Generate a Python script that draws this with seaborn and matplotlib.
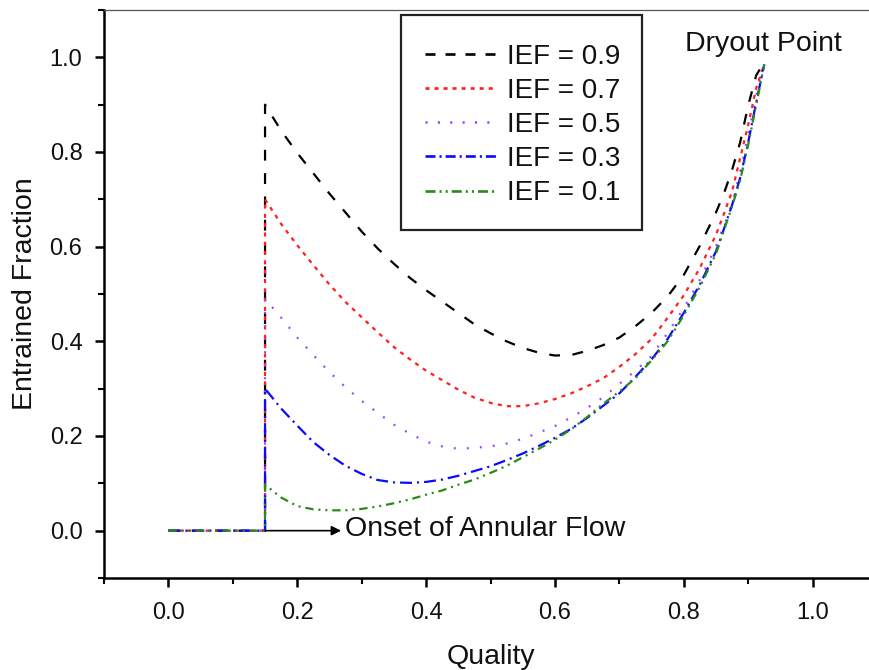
import matplotlib
matplotlib.use("Agg")
import matplotlib.pyplot as plt
import seaborn as sns
import pandas as pd
from matplotlib.ticker import MultipleLocator
from matplotlib.lines import Line2D
from matplotlib.patches import Rectangle

# ---- data ----
quality = [0.0, 0.15, 0.15, 0.175, 0.2, 0.225, 0.25, 0.275, 0.3, 0.325, 0.35, 0.375, 0.4,
           0.425, 0.45, 0.475, 0.5, 0.525, 0.55, 0.575, 0.6, 0.625, 0.65,
           0.675, 0.7, 0.725, 0.75, 0.775, 0.8, 0.825, 0.85,
           0.8625, 0.875, 0.8875, 0.9, 0.9125, 0.925]
ief_labels = ["IEF = 0.9", "IEF = 0.7", "IEF = 0.5", "IEF = 0.3", "IEF = 0.1"]
ef_09 = [0.0, 0.0, 0.90, 0.845, 0.798, 0.755, 0.712, 0.672, 0.632, 0.596, 0.564, 0.534, 0.508,
         0.484, 0.46, 0.436, 0.417, 0.40, 0.386, 0.376, 0.370, 0.371, 0.38,
         0.392, 0.408, 0.432, 0.46, 0.495, 0.54, 0.602, 0.672,
         0.713, 0.762, 0.82, 0.898, 0.962, 0.99]
ef_07 = [0.0, 0.0, 0.70, 0.648, 0.603, 0.561, 0.52, 0.483, 0.451, 0.419, 0.388, 0.362, 0.338,
         0.318, 0.298, 0.281, 0.270, 0.263, 0.263, 0.269, 0.278, 0.29, 0.305,
         0.322, 0.346, 0.373, 0.405, 0.45, 0.497, 0.555, 0.625,
         0.67, 0.717, 0.787, 0.857, 0.935, 0.985]
ef_05 = [0.0, 0.0, 0.49, 0.45, 0.408, 0.371, 0.335, 0.303, 0.274, 0.249, 0.224, 0.205, 0.188,
         0.178, 0.173, 0.175, 0.178, 0.184, 0.194, 0.207, 0.221, 0.239, 0.259,
         0.282, 0.31, 0.338, 0.369, 0.418, 0.47, 0.53, 0.60,
         0.645, 0.69, 0.757, 0.835, 0.92, 0.985]
ef_03 = [0.0, 0.0, 0.30, 0.258, 0.222, 0.187, 0.16, 0.137, 0.12, 0.107, 0.102, 0.101, 0.103,
         0.108, 0.116, 0.126, 0.136, 0.149, 0.163, 0.179, 0.196, 0.215, 0.238,
         0.264, 0.29, 0.325, 0.362, 0.405, 0.46, 0.52, 0.59,
         0.638, 0.688, 0.745, 0.82, 0.905, 0.985]
ef_01 = [0.0, 0.0, 0.097, 0.07, 0.052, 0.045, 0.043, 0.043, 0.046, 0.051, 0.058, 0.066, 0.076,
         0.085, 0.097, 0.108, 0.122, 0.137, 0.155, 0.173, 0.192, 0.214, 0.24,
         0.268, 0.294, 0.322, 0.36, 0.40, 0.455, 0.515, 0.585,
         0.635, 0.685, 0.74, 0.815, 0.90, 0.985]
xticks = [0.0, 0.2, 0.4, 0.6, 0.8, 1.0]
yticks = [0.0, 0.2, 0.4, 0.6, 0.8, 1.0]

series = [ef_09, ef_07, ef_05, ef_03, ef_01]
rows = []
for lab, ys in zip(ief_labels, series):
    for x, y in zip(quality, ys):
        rows.append({"Quality": x, "EF": y, "IEF": lab})
df = pd.DataFrame(rows)

# ---- style ----
sns.set_theme(style="ticks")
plt.rcParams["font.family"] = ["Liberation Sans", "DejaVu Sans"]
plt.rcParams["lines.scale_dashes"] = False

palette = {"IEF = 0.9": "#000000", "IEF = 0.7": "#ff1f1f", "IEF = 0.5": "#9b45ff",
           "IEF = 0.3": "#0a0aff", "IEF = 0.1": "#2a8a1a"}
dashes = {"IEF = 0.9": (7.8, 9),
          "IEF = 0.7": (2.9, 3.8),
          "IEF = 0.5": (1.4, 8),
          "IEF = 0.3": (8.6, 3.6, 1.5, 3.6),
          "IEF = 0.1": (6, 3.5, 1.5, 3.5, 1.5, 3.5)}
leg_dashes = {"IEF = 0.9": (7.2, 7.2),
              "IEF = 0.7": (2.9, 3.6),
              "IEF = 0.5": (1.5, 7.4),
              "IEF = 0.3": (7.2, 2.9, 1.5, 2.9),
              "IEF = 0.1": (7.2, 2.9, 1.5, 2.9, 1.5, 2.9)}

fig = plt.figure(figsize=(8.69, 6.70), dpi=100)
ax = fig.add_axes([104 / 869, 92 / 670, 773 / 869, 568 / 670])

sns.lineplot(data=df, x="Quality", y="EF", hue="IEF", style="IEF",
             hue_order=ief_labels, style_order=ief_labels,
             palette=palette, dashes=dashes, sort=False, estimator=None,
             units="IEF", linewidth=1.6, ax=ax, legend=False)

ax.set_xlim(-0.1, 1.1)
ax.set_ylim(-0.1, 1.1)
ax.set_xticks(xticks)
ax.set_yticks(yticks)
ax.set_xticklabels([f"{t:.1f}" for t in xticks])
ax.set_yticklabels([f"{t:.1f}" for t in yticks])
ax.xaxis.set_minor_locator(MultipleLocator(0.1))
ax.yaxis.set_minor_locator(MultipleLocator(0.1))
ax.tick_params(which="major", direction="out", length=6.5, width=1.8,
               labelsize=17, colors="black")
ax.tick_params(axis="x", which="major", pad=11)
ax.tick_params(axis="y", which="major", pad=9)
ax.tick_params(which="minor", direction="out", length=4.5, width=1.5, colors="black")
ax.tick_params(top=False, right=False, which="both")
for lab in ax.get_xticklabels() + ax.get_yticklabels():
    lab.set_color("#111111")

for side in ["left", "bottom"]:
    ax.spines[side].set_linewidth(1.8)
    ax.spines[side].set_color("black")
ax.spines["top"].set_linewidth(0.9)
ax.spines["top"].set_color("#555555")
ax.spines["right"].set_visible(False)

ax.set_xlabel("Quality", fontsize=20.5, labelpad=14, color="#111111")
ax.set_ylabel("Entrained Fraction", fontsize=20.5, labelpad=8, color="#111111")

# legend frame (drawn separately) and legend entries
ax.add_patch(Rectangle(((401 - 104) / 773, (578 - 230) / 568), (642 - 401) / 773,
                       (230 - 15) / 568, transform=ax.transAxes, fill=True,
                       facecolor="white", edgecolor="#222222", linewidth=1.6,
                       zorder=4))
handles = [Line2D([0], [0], color=palette[l], linestyle=(0, leg_dashes[l]), linewidth=1.9)
           for l in ief_labels]
leg = ax.legend(handles, ief_labels, loc="upper left",
                bbox_to_anchor=((401 - 104) / 773, (578 - 20) / 568),
                fontsize=20, frameon=False,
                handlelength=2.6, handletextpad=0.36, labelspacing=0.29,
                borderpad=0.865, borderaxespad=0)
leg.set_zorder(5)
for t in leg.get_texts():
    t.set_color("#111111")

# annotations
ax.annotate("", xy=(0.268, 0.0), xytext=(0.15, 0.0),
            arrowprops=dict(arrowstyle="-|>", color="black", lw=1.2,
                            mutation_scale=14, shrinkA=0, shrinkB=0))
ax.text(0.274, -0.0105, "Onset of Annular Flow", fontsize=20.5, ha="left",
        va="baseline", color="#111111")
ax.text(0.924, 1.014, "Dryout Point", fontsize=20.5, ha="center", va="baseline",
        color="#111111")

fig.savefig("out.png", dpi=100)
